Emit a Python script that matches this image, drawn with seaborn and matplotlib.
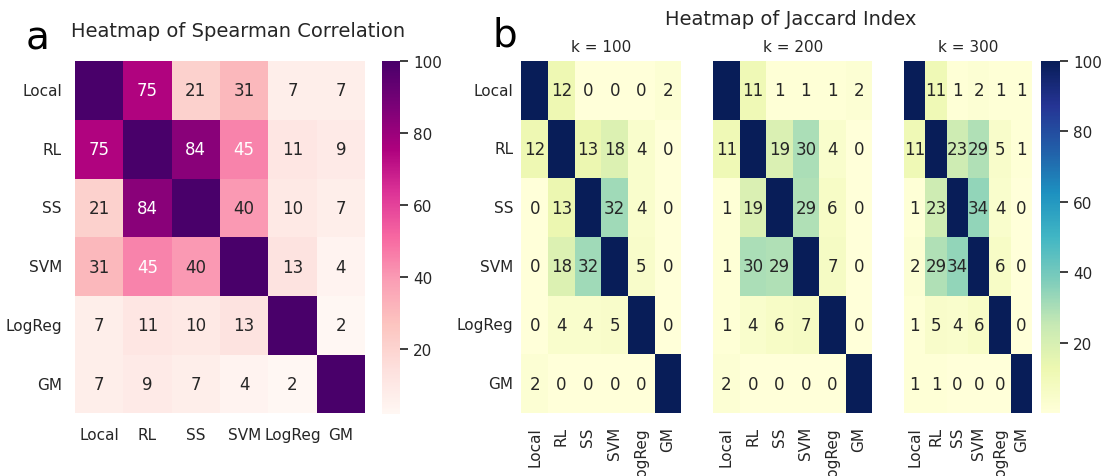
import numpy as np
import pandas as pd
import matplotlib
matplotlib.use("Agg")
import matplotlib.pyplot as plt
import seaborn as sns

# methods compared
methods = ["Local", "RL", "SS", "SVM", "LogReg", "GM"]

# Spearman correlation (%)
spearman = [
    [100, 75, 21, 31, 7, 7],
    [75, 100, 84, 45, 11, 9],
    [21, 84, 100, 40, 10, 7],
    [31, 45, 40, 100, 13, 4],
    [7, 11, 10, 13, 100, 2],
    [7, 9, 7, 4, 2, 100],
]

# Jaccard index (%) for top-k
k_values = [100, 200, 300]
jaccard_k100 = [
    [100, 12, 0, 0, 0, 2],
    [12, 100, 13, 18, 4, 0],
    [0, 13, 100, 32, 4, 0],
    [0, 18, 32, 100, 5, 0],
    [0, 4, 4, 5, 100, 0],
    [2, 0, 0, 0, 0, 100],
]
jaccard_k200 = [
    [100, 11, 1, 1, 1, 2],
    [11, 100, 19, 30, 4, 0],
    [1, 19, 100, 29, 6, 0],
    [1, 30, 29, 100, 7, 0],
    [1, 4, 6, 7, 100, 0],
    [2, 0, 0, 0, 0, 100],
]
jaccard_k300 = [
    [100, 11, 1, 2, 1, 1],
    [11, 100, 23, 29, 5, 1],
    [1, 23, 100, 34, 4, 0],
    [2, 29, 34, 100, 6, 0],
    [1, 5, 4, 6, 100, 0],
    [1, 1, 0, 0, 0, 100],
]
jaccard = [jaccard_k100, jaccard_k200, jaccard_k300]
cbar_ticks = [20, 40, 60, 80, 100]


def labels_no_diag(mat):
    # annotate everything except the diagonal
    lab = np.array([[str(v) for v in row] for row in mat], dtype=object)
    np.fill_diagonal(lab, "")
    return lab


sns.set_theme(style="white", context="notebook")
plt.rcParams['font.family'] = ['DejaVu Sans']

W, H = 1101, 477
fig = plt.figure(figsize=(W / 100, H / 100), dpi=100)


def box(x0, y0, x1, y1):
    return [x0 / W, 1 - y1 / H, (x1 - x0) / W, (y1 - y0) / H]


# a: Spearman
ax_a = fig.add_axes(box(75, 62, 365, 414.5))
cax_a = fig.add_axes(box(382, 62, 400, 414.5))
df_sp = pd.DataFrame(spearman, index=methods, columns=methods)
sns.heatmap(df_sp, cmap="RdPu", annot=labels_no_diag(spearman), fmt="",
            annot_kws={"fontsize": 12}, ax=ax_a, cbar_ax=cax_a,
            cbar_kws={"ticks": cbar_ticks})
ax_a.tick_params(axis="both", labelsize=11, rotation=0)
cax_a.tick_params(labelsize=11)
fig.text(238.5 / W, 1 - 37 / H, "Heatmap of Spearman Correlation",
         ha="center", va="baseline", fontsize=14, color=".15")
fig.text(26 / W, 1 - 50 / H, "a", ha="left", va="baseline", fontsize=28, color="black")

# b: Jaccard
spans = [(521.3, 681.3), (713, 872.3), (904, 1032)]
cax_b = fig.add_axes(box(1041, 62, 1060, 414))
for i, (k, mat) in enumerate(zip(k_values, jaccard)):
    ax = fig.add_axes(box(spans[i][0], 62, spans[i][1], 414))
    df_j = pd.DataFrame(mat, index=methods, columns=methods)
    sns.heatmap(df_j, cmap="YlGnBu",
                annot=labels_no_diag(mat), fmt="", annot_kws={"fontsize": 12},
                ax=ax, cbar=(i == 2), cbar_ax=cax_b if i == 2 else None,
                cbar_kws={"ticks": cbar_ticks} if i == 2 else None,
                yticklabels=methods if i == 0 else False)
    ax.tick_params(axis="x", labelsize=11, rotation=90)
    ax.tick_params(axis="y", labelsize=11, rotation=0, pad=-0.2)
    fig.text((spans[i][0] + spans[i][1]) / 2 / W, 1 - 52.3 / H, f"k = {k}",
             ha="center", va="baseline", fontsize=11, color=".15")
cax_b.tick_params(labelsize=11)
fig.text(790.5 / W, 1 - 25 / H, "Heatmap of Jaccard Index",
         ha="center", va="baseline", fontsize=14, color=".15")
fig.text(492.5 / W, 1 - 46.7 / H, "b", ha="left", va="baseline", fontsize=28, color="black")

fig.savefig("out.png", dpi=100)
